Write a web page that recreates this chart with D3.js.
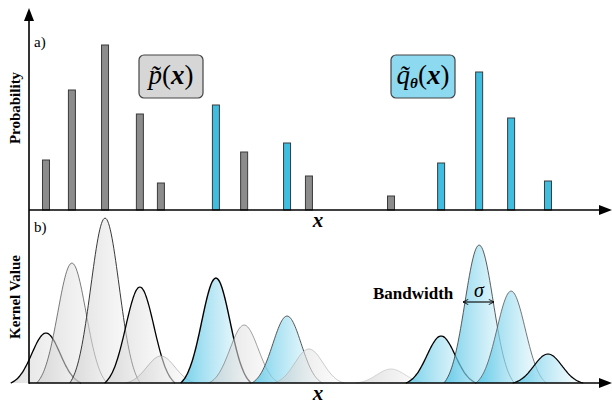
<!DOCTYPE html>
<html>
<head>
<meta charset="utf-8">
<script src="https://cdn.jsdelivr.net/npm/d3@7/dist/d3.min.js"></script>
<style>
  html, body { margin: 0; padding: 0; background: #fff; }
  svg { display: block; }
</style>
</head>
<body>
<svg id="chart" width="612" height="406"></svg>
<script>
// sample locations on the x axis (arbitrary units)
const samplePos = [0.59, 1.49, 2.64, 3.85, 4.58, 6.49, 7.47, 8.96, 9.72, 12.57, 14.31, 15.63, 16.74, 18.02];
// probability of each sample
const sampleProb = [0.050, 0.120, 0.165, 0.096, 0.027, 0.105, 0.058, 0.067, 0.034, 0.014, 0.047, 0.138, 0.092, 0.029];
// which distribution each sample belongs to
const sampleSource = ["p", "p", "p", "p", "p", "q", "p", "q", "p", "p", "q", "q", "q", "q"];
const legendLabels = ["p", "q"];

const SERIF = "'Liberation Serif', 'Times New Roman', serif";
const axisX = 29;
const topBase = 210, botBase = 383;

const svg = d3.select("#chart");

const x = d3.scaleLinear().domain([0, 20]).range([axisX, 605]);
const yTop = d3.scaleLinear().domain([0, 0.2]).range([topBase, topBase - 200]);
const yBot = d3.scaleLinear().domain([0, 0.2]).range([botBase, botBase - 200]);

const colors = {
  p: { bar: "#8c8c8c", box: "#d6d6d6", grad: "#c8c8c8" },
  q: { bar: "#3fbee2", box: "#8dd9f0", grad: "#45c0e4" }
};

// kernel outline weight per sample (visual only)
const outline = [
  [1.3, "#000"], [0.7, "#444"], [0.9, "#222"], [1.3, "#000"], [0.6, "#999"],
  [1.4, "#000"], [0.7, "#777"], [1.0, "#555"], [0.6, "#aaa"], [0.6, "#bbb"],
  [1.3, "#000"], [0.8, "#333"], [0.8, "#555"], [1.2, "#000"]
];

const data = samplePos.map((p, i) => ({ pos: p, prob: sampleProb[i], src: sampleSource[i], i }));

// gradients
const defs = svg.append("defs");
legendLabels.forEach(k => {
  const g = defs.append("linearGradient").attr("id", "grad-" + k)
    .attr("x1", "0").attr("x2", "1").attr("y1", "0").attr("y2", "0");
  g.append("stop").attr("offset", "0").attr("stop-color", colors[k].grad).attr("stop-opacity", k === "p" ? 0.55 : 0.75);
  g.append("stop").attr("offset", "1").attr("stop-color", "#ffffff").attr("stop-opacity", 0.6);
});
defs.append("marker").attr("id", "tick-arrow")
  .attr("viewBox", "0 0 10 10").attr("refX", 9).attr("refY", 5)
  .attr("markerWidth", 6).attr("markerHeight", 6).attr("orient", "auto-start-reverse")
  .append("path").attr("d", "M1,1 L9,5 L1,9").attr("fill", "none").attr("stroke", "#000").attr("stroke-width", 1.3);

// ---- panel b: kernels ----
const sigma = 0.49;            // in x units (~14px)
const cut = 2.5 * sigma;
const floor = Math.exp(-cut * cut / (2 * sigma * sigma));
const kernel = (u, amp) => amp * Math.max(0, (Math.exp(-u * u / (2 * sigma * sigma)) - floor) / (1 - floor));

const line = d3.line().x(d => x(d[0])).y(d => yBot(d[1])).curve(d3.curveBasis);

data.forEach(d => {
  const pts = d3.range(-cut, cut + 1e-9, cut / 40).map(u => [d.pos + u, kernel(u, d.prob)]);
  svg.append("path")
    .attr("d", line(pts))
    .attr("fill", "url(#grad-" + d.src + ")")
    .attr("stroke", outline[d.i][1])
    .attr("stroke-width", outline[d.i][0]);
});

// ---- panel a: bars ----
const barW = 7;
svg.selectAll(".bar").data(data).enter().append("rect")
  .attr("class", "bar")
  .attr("x", d => x(d.pos) - barW / 2)
  .attr("y", d => yTop(d.prob))
  .attr("width", barW)
  .attr("height", d => topBase - yTop(d.prob))
  .attr("fill", d => colors[d.src].bar)
  .attr("stroke", "#3a3a3a")
  .attr("stroke-width", 1);

// ---- axes ----
const ax = svg.append("g").attr("stroke", "#000").attr("stroke-width", 1.6);
ax.append("line").attr("x1", axisX).attr("x2", axisX).attr("y1", 18).attr("y2", botBase + 0.8);
ax.append("line").attr("x1", axisX).attr("x2", 602).attr("y1", topBase).attr("y2", topBase);
ax.append("line").attr("x1", axisX).attr("x2", 602).attr("y1", botBase).attr("y2", botBase);
svg.append("path").attr("d", `M${axisX},8 L${axisX + 5},21 L${axisX - 5},21 Z`).attr("fill", "#000");
[topBase, botBase].forEach(yy => {
  svg.append("path").attr("d", `M612,${yy} L599,${yy - 5} L599,${yy + 5} Z`).attr("fill", "#000");
});

// ---- texts ----
const t = svg.append("g").attr("font-family", SERIF).attr("fill", "#000");
t.append("text").attr("x", 34).attr("y", 47).attr("font-size", 15).text("a)");
t.append("text").attr("x", 34).attr("y", 232).attr("font-size", 15).text("b)");
t.append("text").attr("transform", "translate(20,108) rotate(-90)").attr("text-anchor", "middle")
  .attr("font-size", 15).attr("font-weight", "bold").text("Probability");
t.append("text").attr("transform", "translate(20,297) rotate(-90)").attr("text-anchor", "middle")
  .attr("font-size", 15).attr("font-weight", "bold").text("Kernel Value");
t.append("text").attr("x", 318).attr("y", 227).attr("text-anchor", "middle")
  .attr("font-size", 21).attr("font-weight", "bold").attr("font-style", "italic").text("x");
t.append("text").attr("x", 318).attr("y", 400).attr("text-anchor", "middle")
  .attr("font-size", 21).attr("font-weight", "bold").attr("font-style", "italic").text("x");

// bandwidth annotation
t.append("text").attr("x", 373).attr("y", 299).attr("font-size", 17).attr("font-weight", "bold").text("Bandwidth");
t.append("text").attr("x", 479).attr("y", 297).attr("text-anchor", "middle")
  .attr("font-size", 20).attr("font-style", "italic").text("σ");
svg.append("line").attr("x1", 463).attr("x2", 494).attr("y1", 302).attr("y2", 302)
  .attr("stroke", "#000").attr("stroke-width", 1.1)
  .attr("marker-start", "url(#tick-arrow)").attr("marker-end", "url(#tick-arrow)");

// legend boxes
function legendBox(x0, key) {
  const g = svg.append("g").attr("font-family", SERIF);
  g.append("rect").attr("x", x0).attr("y", 55).attr("width", 64).attr("height", 43).attr("rx", 5)
    .attr("fill", colors[key].box).attr("stroke", "#444").attr("stroke-width", 1.2);
  return g;
}
const gp = legendBox(139, "p");
const tp = gp.append("text").attr("x", 171).attr("y", 84).attr("text-anchor", "middle").attr("font-size", 27);
tp.append("tspan").attr("font-style", "italic").text("p\u0303");
tp.append("tspan").text("(");
tp.append("tspan").attr("font-style", "italic").attr("font-weight", "bold").text("x");
tp.append("tspan").text(")");

const gq = legendBox(391, "q");
const tq = gq.append("text").attr("x", 423).attr("y", 84).attr("text-anchor", "middle").attr("font-size", 27);
tq.append("tspan").attr("font-style", "italic").text("q\u0303");
tq.append("tspan").attr("font-style", "italic").attr("font-weight", "bold").attr("font-size", 15).attr("dy", 4).text("θ");
tq.append("tspan").attr("dy", -4).text("(");
tq.append("tspan").attr("font-style", "italic").attr("font-weight", "bold").text("x");
tq.append("tspan").text(")");
</script>
</body>
</html>
